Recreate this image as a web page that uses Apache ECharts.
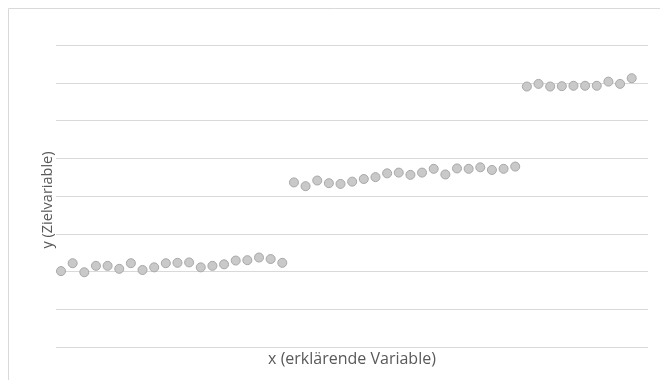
<!DOCTYPE html>
<html>
<head>
<meta charset="utf-8">
<style>
  html, body { margin: 0; padding: 0; background: #ffffff; }
  #chart { width: 660px; height: 380px; }
</style>
<script src="https://cdn.jsdelivr.net/npm/echarts@6/dist/echarts.min.js"></script>
</head>
<body>
<div id="chart"></div>
<script>
// Observations: explanatory variable x (index) and target variable y
const xValues = [
  1, 2, 3, 4, 5, 6, 7, 8, 9, 10,
  11, 12, 13, 14, 15, 16, 17, 18, 19, 20,
  21, 22, 23, 24, 25, 26, 27, 28, 29, 30,
  31, 32, 33, 34, 35, 36, 37, 38, 39, 40,
  41, 42, 43, 44, 45, 46, 47, 48, 49, 50
];
const yValues = [
  20.1, 22.2, 19.8, 21.5, 21.5, 20.7, 22.2, 20.4, 21.1, 22.2,
  22.3, 22.4, 21.1, 21.5, 21.9, 22.9, 23.0, 23.7, 23.3, 22.3,
  43.6, 42.6, 44.1, 43.4, 43.2, 43.8, 44.5, 45.0, 46.0, 46.2,
  45.6, 46.2, 47.2, 45.7, 47.3, 47.2, 47.6, 46.9, 47.2, 47.8,
  69.0, 69.7, 69.0, 69.1, 69.2, 69.2, 69.2, 70.3, 69.7, 71.2
];
const xAxisTitle = 'x (erklärende Variable)';
const yAxisTitle = 'y (Zielvariable)';

const points = xValues.map((x, i) => [x, yValues[i]]);

const titleColor = '#595959';
const titleFamily = '"Open Sans", sans-serif';

const chart = echarts.init(document.getElementById('chart'), null, { renderer: 'canvas' });
chart.setOption({
  animation: false,
  backgroundColor: '#ffffff',
  graphic: [{
    type: 'rect',
    silent: true,
    shape: { x: 8.5, y: 8.5, width: 700, height: 420 },
    style: { fill: 'none', stroke: '#d9d9d9', lineWidth: 1 }
  }],
  grid: { left: 56, right: 12, top: 45, bottom: 33 },
  xAxis: {
    type: 'value',
    min: 0.57,
    max: 51.4,
    axisLine: { show: false },
    axisTick: { show: false },
    axisLabel: { show: false },
    splitLine: { show: false },
    name: xAxisTitle,
    nameLocation: 'middle',
    nameGap: 4,
    nameTextStyle: { color: titleColor, fontSize: 16, fontFamily: titleFamily }
  },
  yAxis: {
    type: 'value',
    min: 0,
    max: 80,
    interval: 10,
    axisLine: { show: false },
    axisTick: { show: false },
    axisLabel: { show: false },
    splitLine: { show: true, lineStyle: { color: '#d9d9d9', width: 1 } },
    name: yAxisTitle,
    nameLocation: 'middle',
    nameGap: 1,
    nameRotate: 90,
    nameTextStyle: { color: titleColor, fontSize: 14.5, fontFamily: titleFamily, padding: [0, 8, 0, 0] }
  },
  series: [{
    type: 'scatter',
    data: points,
    symbol: 'circle',
    symbolSize: 9,
    itemStyle: { color: '#c9c9c9', borderColor: '#a8a8a8', borderWidth: 1, opacity: 1 }
  }]
});
</script>
</body>
</html>
